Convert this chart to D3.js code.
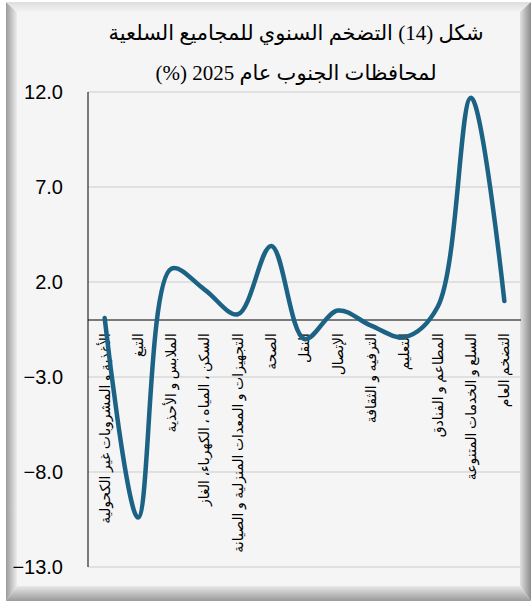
<!DOCTYPE html>
<html>
<head>
<meta charset="utf-8">
<script src="https://cdn.jsdelivr.net/npm/d3@7"></script>
<style>
  body { margin: 0; background: #ffffff; }
  svg { display: block; }
</style>
</head>
<body>
<div id="chart"></div>
<script>
// categories (drawn left to right)
const categories = [
  "الأغذية و المشروبات غير الكحولية",
  "التبغ",
  "الملابس و الأحذية",
  "السكن ، المياه ، الكهرباء، الغاز",
  "التجهيزات و المعدات المنزلية و الصيانة",
  "الصحة",
  "النقل",
  "الإتصال",
  "الترفيه و الثقافة",
  "التعليم",
  "المطاعم و الفنادق",
  "السلع و الخدمات المتنوعة",
  "التضخم العام"
];
const inflation = [0.1, -10.4, 2.7, 1.6, 0.3, 3.9, -1.0, 0.5, -0.3, -0.9, 0.7, 11.7, 1.0];
const yTicks = [-13, -8, -3, 2, 7, 12];
const titleLines = ["شكل (14) التضخم السنوي للمجاميع السلعية", "لمحافظات الجنوب عام 2025 (%)"];

const W = 531, H = 601;
const plot = {left: 88, right: 521, top: 92, bottom: 567};

const svg = d3.select("#chart").append("svg")
  .attr("width", W)
  .attr("height", H)
  .attr("viewBox", [0, 0, W, H]);

// bevelled frame
const defs = svg.append("defs");
function grad(id, x1, y1, x2, y2, c1, c2) {
  const g = defs.append("linearGradient").attr("id", id)
    .attr("x1", x1).attr("y1", y1).attr("x2", x2).attr("y2", y2);
  g.append("stop").attr("offset", "0%").attr("stop-color", c1);
  g.append("stop").attr("offset", "100%").attr("stop-color", c2);
}
grad("gLeft", "0", "0", "1", "0", "#9c9c9c", "#ededed");
grad("gTop", "0", "0", "0", "1", "#dedede", "#f3f3f3");
grad("gRight", "0", "0", "1", "0", "#e0e0e0", "#8c8c8c");
grad("gBottom", "0", "0", "0", "1", "#e8e8e8", "#9a9a9a");

const inner = {x0: 17, y0: 12, x1: 520, y1: 586};
const outer = {x0: 6, y0: 2, x1: 531, y1: 601};

svg.append("rect")
  .attr("x", inner.x0).attr("y", inner.y0)
  .attr("width", inner.x1 - inner.x0).attr("height", inner.y1 - inner.y0)
  .attr("fill", "#f5f5f5");

const bevels = [
  {fill: "url(#gLeft)", pts: [[outer.x0, outer.y0], [inner.x0, inner.y0], [inner.x0, inner.y1], [outer.x0, outer.y1]]},
  {fill: "url(#gTop)", pts: [[outer.x0, outer.y0], [outer.x1, outer.y0], [inner.x1, inner.y0], [inner.x0, inner.y0]]},
  {fill: "url(#gRight)", pts: [[inner.x1, inner.y0], [outer.x1, outer.y0], [outer.x1, outer.y1], [inner.x1, inner.y1]]},
  {fill: "url(#gBottom)", pts: [[inner.x0, inner.y1], [inner.x1, inner.y1], [outer.x1, outer.y1], [outer.x0, outer.y1]]}
];
svg.selectAll("polygon.bevel")
  .data(bevels)
  .join("polygon")
    .attr("class", "bevel")
    .attr("points", d => d.pts.map(p => p.join(",")).join(" "))
    .attr("fill", d => d.fill);

// title (right-to-left so the brackets sit correctly)
svg.append("g")
  .selectAll("text")
  .data(titleLines)
  .join("text")
    .attr("x", 296)
    .attr("y", (d, i) => 40 + i * 40)
    .attr("direction", "rtl")
    .attr("text-anchor", "middle")
    .style("font-family", "'Liberation Serif', 'DejaVu Sans', serif")
    .style("font-size", "21px")
    .attr("fill", "#000")
    .text(d => d);

// scales
const x = d3.scaleBand()
  .domain(categories)
  .range([plot.left, plot.right]);

const y = d3.scaleLinear()
  .domain([-13, 12])
  .range([plot.bottom, plot.top]);

// gridlines
svg.append("g")
  .selectAll("line")
  .data(yTicks)
  .join("line")
    .attr("x1", plot.left)
    .attr("x2", plot.right)
    .attr("y1", d => y(d))
    .attr("y2", d => y(d))
    .attr("stroke", "#d9d9d9")
    .attr("stroke-width", 1.5);

// y axis labels
const yAxis = svg.append("g")
  .attr("transform", `translate(${plot.left},0)`)
  .call(d3.axisLeft(y).tickValues(yTicks).tickFormat(d3.format(".1f")).tickSize(0).tickPadding(25));
yAxis.select(".domain").remove();
yAxis.selectAll("text")
  .style("font-family", "'Liberation Sans', Arial, sans-serif")
  .style("font-size", "20px")
  .attr("fill", "#000");

// left axis line
svg.append("line")
  .attr("x1", plot.left).attr("x2", plot.left)
  .attr("y1", plot.top).attr("y2", plot.bottom)
  .attr("stroke", "#000").attr("stroke-width", 1);

// zero line
svg.append("line")
  .attr("x1", plot.left).attr("x2", plot.right)
  .attr("y1", y(0)).attr("y2", y(0))
  .attr("stroke", "#000").attr("stroke-width", 1.2);

// category labels, rotated
svg.append("g")
  .selectAll("text")
  .data(categories)
  .join("text")
    .attr("transform", d => `translate(${x(d) + x.bandwidth() / 2},${y(0) + 13}) rotate(-90)`)
    .attr("dy", "0.35em")
    .attr("text-anchor", "end")
    .style("font-family", "'Liberation Serif', 'DejaVu Sans', serif")
    .style("font-size", "14px")
    .attr("fill", "#000")
    .text(d => d);

// smoothed line
const line = d3.line()
  .x((d, i) => x(categories[i]) + x.bandwidth() / 2)
  .y(d => y(d))
  .curve(d3.curveCatmullRom.alpha(0.5));

svg.append("path")
  .datum(inflation)
  .attr("d", line)
  .attr("fill", "none")
  .attr("stroke", "#1b6285")
  .attr("stroke-width", 4.5)
  .attr("stroke-linecap", "round");
</script>
</body>
</html>
